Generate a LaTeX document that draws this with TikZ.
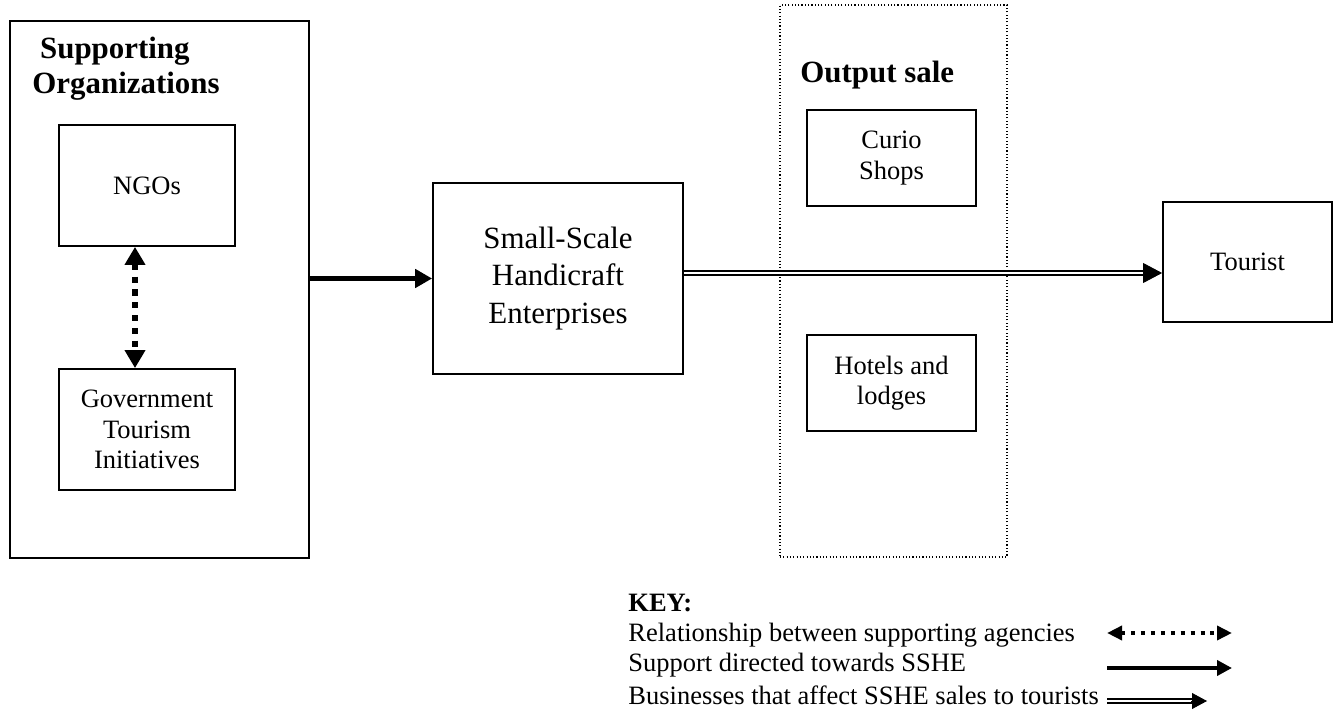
\documentclass[tikz,border=0pt]{standalone}
\usepackage{fontspec}
\setmainfont{Liberation Serif}
\usetikzlibrary{arrows.meta}

\begin{document}
\begin{tikzpicture}[x = 0.453pt, y = -0.453pt,
	box/.style = {draw, line width = 0.8pt, align = center, inner sep = 0pt, font = \fontsize{12}{13.8}\selectfont},
	salebox/.style = {draw, densely dotted, line width = 0.5pt},
	title/.style = {anchor = west, align = left, inner sep = 0pt, font = \fontsize{14}{16}\selectfont\bfseries},
	keytext/.style = {anchor = west, inner sep = 0pt, font = \fontsize{12}{13.8}\selectfont},
	support/.style = {line width = 2.3pt, -{Triangle[length = 7.7pt, width = 8.2pt]}},
	relation/.style = {line width = 2.8pt, dash pattern = on 2.8pt off 3pt, {Triangle[length = 8.2pt, width = 9pt]}-{Triangle[length = 8.2pt, width = 9pt]}},
	sales/.style = {double, line width = 0.7pt, double distance = 0.9pt},
	salestip/.style = {line width = 0.4pt, -{Triangle[length = 8.6pt, width = 9pt]}}]

	% Definitions

	\def\U{0.453pt}		% one pixel of the page

	\useasboundingbox (0, 0) rectangle (1336, 712);

	% Supporting organizations

	\node [box, minimum width = 299*\U, minimum height = 537*\U] (orgs) at (159.5, 289.5) {};
	\node [title] (orgstitle) at (32, 69) {\hspace*{0.25em}Supporting\\Organizations};

	\node [box, minimum width = 176*\U, minimum height = 121*\U] (ngo) at (147, 185.5) {NGOs};
	\node [box, minimum width = 176*\U, minimum height = 121*\U] (gov) at (147, 429.5) {Government\\Tourism\\Initiatives};

	\draw [relation] ([xshift = -12*\U]ngo.south) -- ([xshift = -12*\U]gov.north);

	% Enterprises

	\node [box, minimum width = 250*\U, minimum height = 191*\U, font = \fontsize{14}{16.8}\selectfont] (sshe) at (558, 278.5) {Small-Scale\\Handicraft\\Enterprises};

	\draw [support] (sshe.west -| orgs.east) -- (sshe.west);

	% Output sale

	\node [salebox, minimum width = 227*\U, minimum height = 552*\U] (sale) at (893.5, 281) {};
	\node [title] (saletitle) at (800, 75) {Output sale};

	\node [box, minimum width = 169*\U, minimum height = 96*\U] (curio) at (891.5, 158) {Curio\\Shops};
	\node [box, minimum width = 169*\U, minimum height = 96*\U] (hotels) at (891.5, 383) {Hotels and\\lodges};

	% Tourist

	\node [box, minimum width = 169*\U, minimum height = 120*\U] (tourist) at (1247.5, 262) {Tourist};

	\coordinate (salestart) at ([yshift = 5.5*\U]sshe.east);
	\coordinate (saleend) at (tourist.west |- salestart);
	\draw [sales] (salestart) -- ([xshift = -16*\U]saleend);
	\draw [salestip] ([xshift = -18*\U]saleend) -- (saleend);

	% Key

	\node [title, font = \fontsize{12}{13.8}\selectfont\bfseries] (key) at (628, 603) {KEY:};
	\node [keytext] (key1) at (628, 635) {Relationship between supporting agencies};
	\node [keytext] (key2) at (628, 665) {Support directed towards SSHE};
	\node [keytext] (key3) at (628, 695) {Businesses that affect SSHE sales to tourists};

	\coordinate (k1a) at (1107, 633);
	\coordinate (k1b) at (1232, 633);
	\coordinate (k2a) at (1107, 668);
	\coordinate (k2b) at (1232, 668);
	\coordinate (k3a) at (1107, 701);
	\coordinate (k3b) at (1207, 701);

	\draw [line width = 1.8pt, dash pattern = on 1.8pt off 2.7pt, {Triangle[length = 6.8pt, width = 6.3pt]}-{Triangle[length = 6.8pt, width = 6.3pt]}] (k1a) -- (k1b);
	\draw [line width = 2pt, -{Triangle[length = 6.8pt, width = 6.8pt]}] (k2a) -- (k2b);
	\draw [sales] (k3a) -- ([xshift = -14*\U]k3b);
	\draw [salestip, -{Triangle[length = 6.8pt, width = 7.2pt]}] ([xshift = -16*\U]k3b) -- (k3b);

\end{tikzpicture}
\end{document}
